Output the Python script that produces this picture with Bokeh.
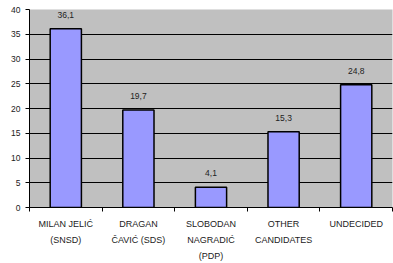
from bokeh.plotting import figure
from bokeh.models import FixedTicker, ColumnDataSource
from bokeh.core.properties import value
from bokeh.embed import file_html
from bokeh.resources import INLINE

categories = ["MILAN JELIĆ\n(SNSD)", "DRAGAN\nČAVIĆ (SDS)", "SLOBODAN\nNAGRADIĆ\n(PDP)", "OTHER\nCANDIDATES", "UNDECIDED"]
values = [36.1, 19.7, 4.1, 15.3, 24.8]
value_labels = ["36,1", "19,7", "4,1", "15,3", "24,8"]
y_ticks = [0, 5, 10, 15, 20, 25, 30, 35, 40]

xs = [i + 0.5 for i in range(len(categories))]
src = ColumnDataSource(dict(x=xs, top=values, lab=value_labels))

font = "Liberation Sans"
p = figure(width=393, height=263, output_backend="svg", toolbar_location=None,
           x_range=(0, len(categories)), y_range=(0, 40),
           min_border_left=29, min_border_right=1, min_border_top=9, min_border_bottom=55)
p.background_fill_color = "#C0C0C0"
p.border_fill_color = "white"
p.outline_line_color = None

p.vbar(x="x", top="top", width=0.43, bottom=0, source=src,
       fill_color="#9999FF", line_color="black", line_width=1.5)
p.text(x="x", y="top", text="lab", source=src, text_align="center", text_baseline="middle",
       y_offset=-14, text_font_size="8.5px", text_color="#222222", text_font=value(font))

# x axis
p.xaxis.ticker = FixedTicker(ticks=xs, minor_ticks=list(range(len(categories) + 1)))
p.xaxis.major_label_overrides = {x: c for x, c in zip(xs, categories)}
p.xaxis.major_tick_out = 0
p.xaxis.major_tick_in = 0
p.xaxis.minor_tick_out = 4
p.xaxis.minor_tick_in = 0
p.xaxis.minor_tick_line_color = "black"
p.xaxis.axis_line_color = "black"
p.xaxis.major_label_text_font = font
p.xaxis.major_label_text_font_size = "9px"
p.xaxis.major_label_text_color = "#222222"
p.xaxis.major_label_text_line_height = 1.6
p.xaxis.major_label_standoff = 7

# y axis
p.yaxis.ticker = FixedTicker(ticks=y_ticks)
p.yaxis.minor_tick_line_color = None
p.yaxis.major_tick_out = 4
p.yaxis.major_tick_in = 0
p.yaxis.major_tick_line_color = "black"
p.yaxis.axis_line_color = "black"
p.yaxis.major_label_text_font = font
p.yaxis.major_label_text_font_size = "8.5px"
p.yaxis.major_label_text_color = "#222222"
p.yaxis.major_label_standoff = 5

p.xgrid.grid_line_color = None
p.ygrid.ticker = FixedTicker(ticks=y_ticks)
p.ygrid.grid_line_color = "black"
p.ygrid.grid_line_width = 1

open("out.html", "w").write(file_html(p, INLINE))
